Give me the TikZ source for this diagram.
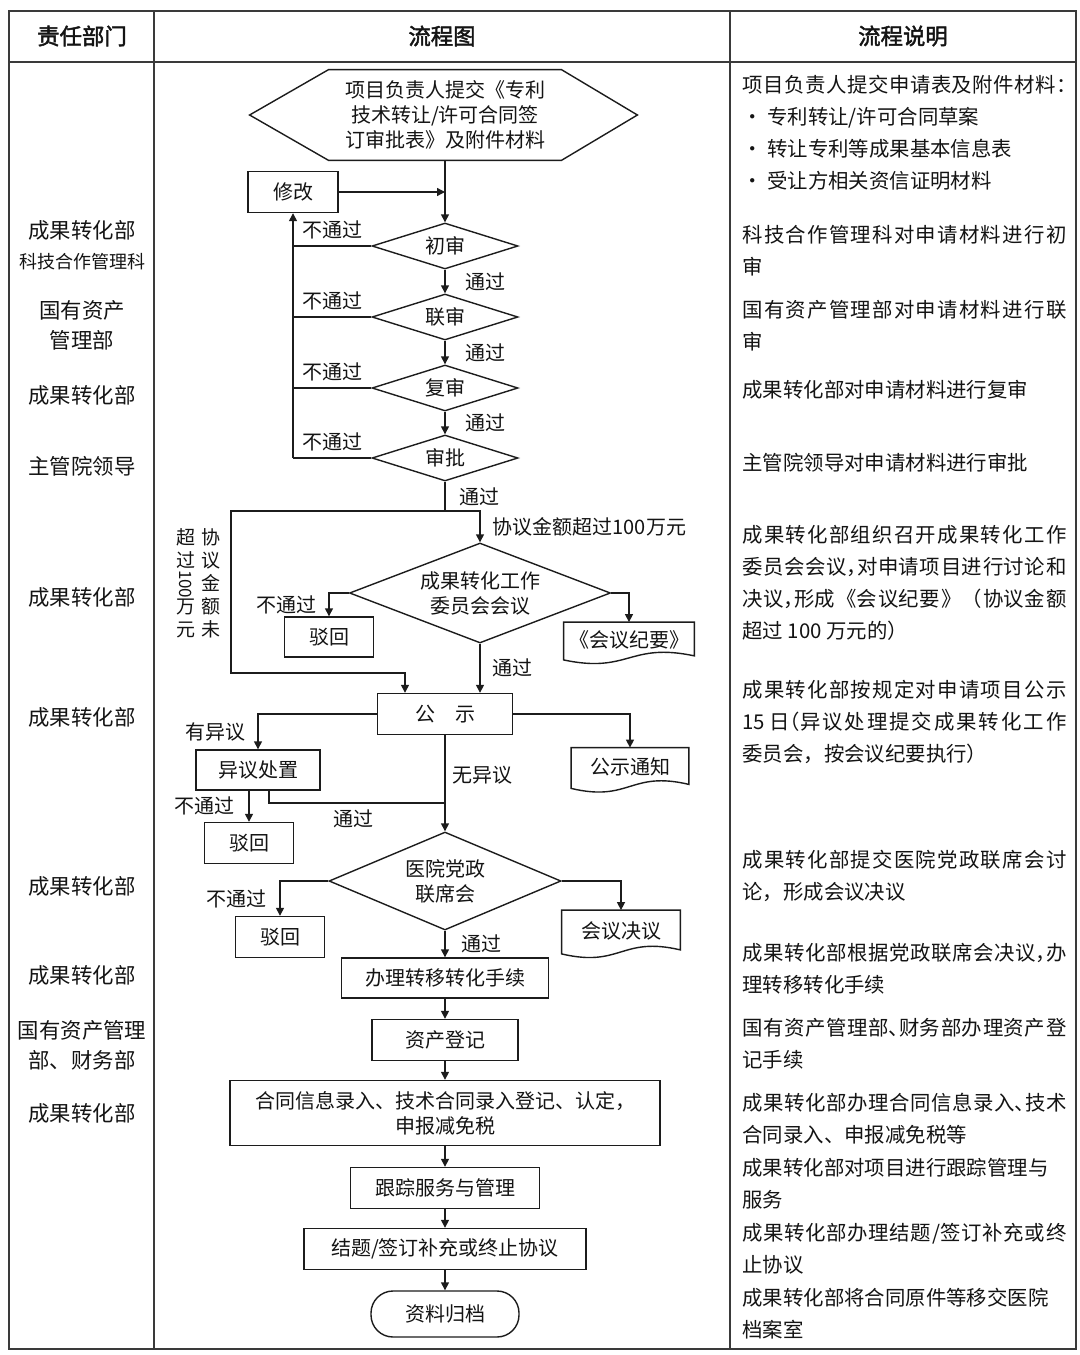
\documentclass[tikz,border=0pt]{standalone}
\usepackage{fontspec}
\usepackage{graphicx}
\setmainfont{Noto Sans CJK SC}
\newfontfamily\headfont{Noto Sans CJK SC}[FakeBold=2]
\usetikzlibrary{shapes.geometric, arrows.meta}

\definecolor{inkline}{HTML}{1c1c1c}
\definecolor{inktext}{HTML}{141414}
\definecolor{framegray}{HTML}{3a3a3a}

\newcommand{\flowfont}{\fontsize{10}{12.5}\selectfont}
\newcommand{\deptfont}{\fontsize{10.7}{15}\selectfont}
\newcommand{\notefont}{\fontsize{10.2}{16}\selectfont}

% justified note lines: own char class for CJK, half-width punctuation
\newcount\cjkcode
\cjkcode="4E00
\loop
  \XeTeXcharclass\cjkcode=7
  \advance\cjkcode by 1
\ifnum\cjkcode<"A000
\repeat
\XeTeXcharclass"3001=7
\XeTeXcharclass"300A=7
\XeTeXcharclass"300B=7
\XeTeXcharclass"FF08=7
\XeTeXcharclass"FF09=7
\XeTeXcharclass"FF0C=7
\XeTeXcharclass"FF1A=7
\XeTeXinterchartoks 7 7 = {\hskip 0pt plus 1fil}
\XeTeXinterchartoks 0 7 = {\hskip 0pt plus 1fil}
\XeTeXinterchartoks 7 0 = {\hskip 0pt plus 1fil}
\newcommand{\jline}[1]{\makebox[162pt][s]{\XeTeXinterchartokenstate=1 #1}}
\newcommand{\hpl}[1]{\makebox[0.5em][l]{#1}}
\newcommand{\hpr}[1]{\makebox[0.5em][r]{#1}}

\tikzstyle{frame} = [draw=framegray, line width=0.9pt]
\tikzstyle{head} = [font=\headfont\fontsize{11.2}{13}\selectfont, text=inktext]
\tikzstyle{dept} = [font=\deptfont, text=inktext, align=center, inner sep=0pt]
\tikzstyle{note} = [font=\notefont, text=inktext, align=left, anchor=north west, inner sep=0pt]
\tikzstyle{box} = [rectangle, draw=inkline, line width=0.7pt, text=inktext,
  font=\flowfont, align=center, inner sep=1pt]
\tikzstyle{decision} = [diamond, aspect=3, draw=inkline, line width=0.7pt, text=inktext,
  font=\flowfont, align=center, inner sep=0pt]
\tikzstyle{plain} = [rectangle, text=inktext, font=\flowfont, align=center, inner sep=1pt]
\tikzstyle{terminal} = [rectangle, rounded corners=11pt, draw=inkline, line width=0.7pt,
  text=inktext, font=\flowfont, align=center, inner sep=1pt]
\tikzstyle{lbl} = [font=\flowfont, text=inktext, inner sep=1pt]
\tikzstyle{link} = [draw=inkline, line width=0.7pt]
\tikzstyle{arrow} = [-{Triangle[length=4pt, width=4pt]}, draw=inkline, line width=0.7pt]

% document shape round a plain node
\newcommand{\docframe}[1]{%
  \draw[link] (#1.north west) -- ([yshift=-1pt]#1.south west)
    .. controls ([yshift=-8pt]#1.south) and ([yshift=8pt]#1.south) ..
    ([yshift=1pt]#1.south east) -- (#1.north east) -- cycle;}

\begin{document}
\begin{tikzpicture}[x=0.5pt, y=-0.5pt]

  \fill[white] (0,0) rectangle (1080,1355);
  \useasboundingbox (0,0) rectangle (1080,1355);

  % table frame
  \draw[frame] (9,11) rectangle (1076,1349);
  \draw[frame] (9,62) -- (1076,62);
  \draw[frame] (154,11) -- (154,1349);
  \draw[frame] (730,11) -- (730,1349);

  \node[head] (hdept) at (82,36) {责任部门};
  \node[head] (hflow) at (442,36) {流程图};
  \node[head] (hnote) at (903,36) {流程说明};

  % departments
  \node[dept] (dA) at (82,230) {成果转化部};
  \node[dept, font=\fontsize{9}{11}\selectfont] (dAsub) at (82,262) {科技合作管理科};
  \node[dept] (dB) at (82,325) {国有资产\\管理部};
  \node[dept] (dC) at (82,395) {成果转化部};
  \node[dept] (dD) at (82,466) {主管院领导};
  \node[dept] (dE) at (82,597) {成果转化部};
  \node[dept] (dF) at (82,717) {成果转化部};
  \node[dept] (dG) at (82,886) {成果转化部};
  \node[dept] (dH) at (82,975) {成果转化部};
  \node[dept] (dI) at (82,1045) {国有资产管理\\部、财务部};
  \node[dept] (dJ) at (82,1113) {成果转化部};

  % flow nodes
  \node[plain, minimum width=116pt, minimum height=45pt] (start) at (445,115)
    {项目负责人提交《专利\\技术转让/许可合同签\\订审批表》及附件材料};
  \node[box, minimum width=45pt, minimum height=20.5pt] (xiugai) at (293,192) {修改};
  \node[decision, minimum width=73pt, minimum height=23pt] (chu) at (445,246) {初审};
  \node[decision, minimum width=73pt, minimum height=23pt] (lian) at (445,317) {联审};
  \node[decision, minimum width=73pt, minimum height=23pt] (fu) at (445,388) {复审};
  \node[decision, minimum width=73pt, minimum height=23pt] (shenpi) at (445,458) {审批};
  \coordinate (split) at (445,511);
  \coordinate (lowleft) at (231,673);
  \node[lbl, font=\fontsize{9.5}{11.5}\selectfont] (weiguo) at (198,583)
    {\parbox[t]{10pt}{\centering 超\\过\\\rotatebox[origin=c]{-90}{\fontsize{8.5}{9}\selectfont 100}\\万\\元}\hspace{2.5pt}%
     \parbox[t]{10pt}{\centering 协\\议\\金\\额\\未}};
  \node[decision, aspect=2.6, minimum width=130.5pt, minimum height=50pt] (weiyuan) at (480,593)
    {成果转化工作\\委员会会议};
  \node[box, minimum width=44.5pt, minimum height=20pt] (bohuiA) at (329,637) {驳回};
  \node[plain, minimum width=65pt, minimum height=17.5pt] (jiyao) at (629,640) {《会议纪要》};
  \node[box, minimum width=67.5pt, minimum height=20.5pt] (gongshi) at (445,714) {公\hspace{1em}示};
  \node[box, minimum width=62pt, minimum height=20pt] (yiyi) at (258,770) {异议处置};
  \node[plain, minimum width=58.5pt, minimum height=19pt] (tongzhi) at (630,767) {公示通知};
  \node[box, minimum width=44.5pt, minimum height=20.5pt] (bohuiB) at (249,843) {驳回};
  \coordinate (merge) at (445,803);
  \node[decision, aspect=2.4, minimum width=116pt, minimum height=49pt] (yiyuan) at (445,881)
    {医院党政\\联席会};
  \node[box, minimum width=44.5pt, minimum height=20.5pt] (bohuiC) at (280,937) {驳回};
  \node[plain, minimum width=59pt, minimum height=20.5pt] (jueyi) at (621,931) {会议决议};
  \node[box, minimum width=103.5pt, minimum height=20pt] (banli) at (445,978) {办理转移转化手续};
  \node[box, minimum width=73pt, minimum height=20.5pt] (zichan) at (445,1040) {资产登记};
  \node[box, minimum width=215pt, minimum height=32.5pt] (hetong) at (445,1113)
    {合同信息录入、技术合同录入登记、认定，\\申报减免税};
  \node[box, minimum width=94.5pt, minimum height=20.5pt] (genzong) at (445,1188) {跟踪服务与管理};
  \node[box, minimum width=141pt, minimum height=20.5pt] (jieti) at (445,1249) {结题/签订补充或终止协议};
  \node[terminal, minimum width=74pt, minimum height=23pt] (guidang) at (445,1314) {资料归档};

  % shapes drawn round plain nodes
  \draw[link] (start.north west) -- (start.north east) -- ([xshift=38pt]start.east)
    -- (start.south east) -- (start.south west) -- ([xshift=-39.5pt]start.west) -- cycle;
  \docframe{jiyao}
  \docframe{tongzhi}
  \docframe{jueyi}

  % review chain
  \draw[arrow] (start.south) -- (chu.north);
  \draw[arrow] (xiugai.east) -- (xiugai.east -| chu.north);
  \draw[arrow] (chu.south) -- node[lbl, right=9pt] {通过} (lian.north);
  \draw[arrow] (lian.south) -- node[lbl, right=9pt] {通过} (fu.north);
  \draw[arrow] (fu.south) -- node[lbl, right=9pt] {通过} (shenpi.north);

  % back to 修改
  \draw[link] (chu.west) -- node[lbl, above=2pt] {不通过} (chu.west -| xiugai.south);
  \draw[link] (lian.west) -- node[lbl, above=2pt] {不通过} (lian.west -| xiugai.south);
  \draw[link] (fu.west) -- node[lbl, above=2pt] {不通过} (fu.west -| xiugai.south);
  \draw[link] (shenpi.west) -- node[lbl, above=2pt] {不通过} (shenpi.west -| xiugai.south);
  \draw[arrow] (shenpi.west -| xiugai.south) -- (xiugai.south);

  % committee or not
  \draw[link] (shenpi.south) -- node[lbl, right=6pt] {通过} (split);
  \draw[arrow] (split) -| node[lbl, pos=0.75, right=5pt] {协议金额超过100万元} (weiyuan.north);
  \draw[arrow] (split) -| (lowleft) -| ([xshift=-20pt]gongshi.north);
  \draw[arrow] (weiyuan.west) -| node[lbl, pos=0.75, left=5pt] {不通过} (bohuiA.north);
  \draw[arrow] (weiyuan.east) -| (jiyao.north);
  \draw[arrow] (weiyuan.south) -- node[lbl, right=5pt] {通过} (weiyuan.south |- gongshi.north);

  % publicity
  \draw[arrow] (gongshi.west) -| node[lbl, pos=0.75, left=5pt] {有异议} (yiyi.north);
  \draw[arrow] (gongshi.east) -| (tongzhi.north);
  \draw[arrow] (bohuiB.north |- yiyi.south) -- node[lbl, left=6pt] {不通过} (bohuiB.north);
  \draw[link] ([xshift=5.5pt]yiyi.south) |- node[lbl, pos=0.74, below=2pt] {通过} (merge);
  \draw[arrow] (gongshi.south) -- node[lbl, pos=0.42, right=2.5pt] {无异议} (yiyuan.north);

  % party meeting
  \draw[arrow] (yiyuan.west) -| node[lbl, pos=0.75, left=5.5pt] {不通过} (bohuiC.north);
  \draw[arrow] (yiyuan.east) -| (jueyi.north);
  \draw[arrow] (yiyuan.south) -- node[lbl, right=7pt] {通过} (banli.north);

  % closing steps
  \draw[arrow] (banli.south) -- (zichan.north);
  \draw[arrow] (zichan.south) -- (hetong.north);
  \draw[arrow] (hetong.south) -- (genzong.north);
  \draw[arrow] (genzong.south) -- (jieti.north);
  \draw[arrow] (jieti.south) -- (guidang.north);

  % notes
  \node[note] (nA) at (742,75) {\jline{项目负责人提交申请表及附件材料\hpl{：}}\\
    • 专利转让/许可合同草案\\• 转让专利等成果基本信息表\\• 受让方相关资信证明材料};
  \node[note] (nB) at (742,225) {\jline{科技合作管理科对申请材料进行初}\\审};
  \node[note] (nC) at (742,300) {\jline{国有资产管理部对申请材料进行联}\\审};
  \node[note] (nD) at (742,380) {成果转化部对申请材料进行复审};
  \node[note] (nE) at (742,453) {主管院领导对申请材料进行审批};
  \node[note] (nF) at (742,525) {\jline{成果转化部组织召开成果转化工作}\\
    \jline{委员会会议\hpl{，}对申请项目进行讨论和}\\
    \jline{决议\hpl{，}形成《会议纪要》（协议金额}\\超过 100 万元的）};
  \node[note] (nG) at (742,680) {\jline{成果转化部按规定对申请项目公示}\\
    \jline{15 日\hpr{（}异议处理提交成果转化工作}\\委员会，按会议纪要执行）};
  \node[note] (nH) at (742,850) {\jline{成果转化部提交医院党政联席会讨}\\论，形成会议决议};
  \node[note] (nI) at (742,943) {\jline{成果转化部根据党政联席会决议\hpl{，}办}\\理转移转化手续};
  \node[note] (nJ) at (742,1018) {\jline{国有资产管理部\hpl{、}财务部办理资产登}\\记手续};
  \node[note] (nK) at (742,1093) {\jline{成果转化部办理合同信息录入\hpl{、}技术}\\合同录入、申报减免税等};
  \node[note] (nL) at (742,1158) {成果转化部对项目进行跟踪管理与\\服务};
  \node[note] (nM) at (742,1223) {\jline{成果转化部办理结题/签订补充或终}\\止协议};
  \node[note] (nN) at (742,1288) {成果转化部将合同原件等移交医院\\档案室};

\end{tikzpicture}
\end{document}
